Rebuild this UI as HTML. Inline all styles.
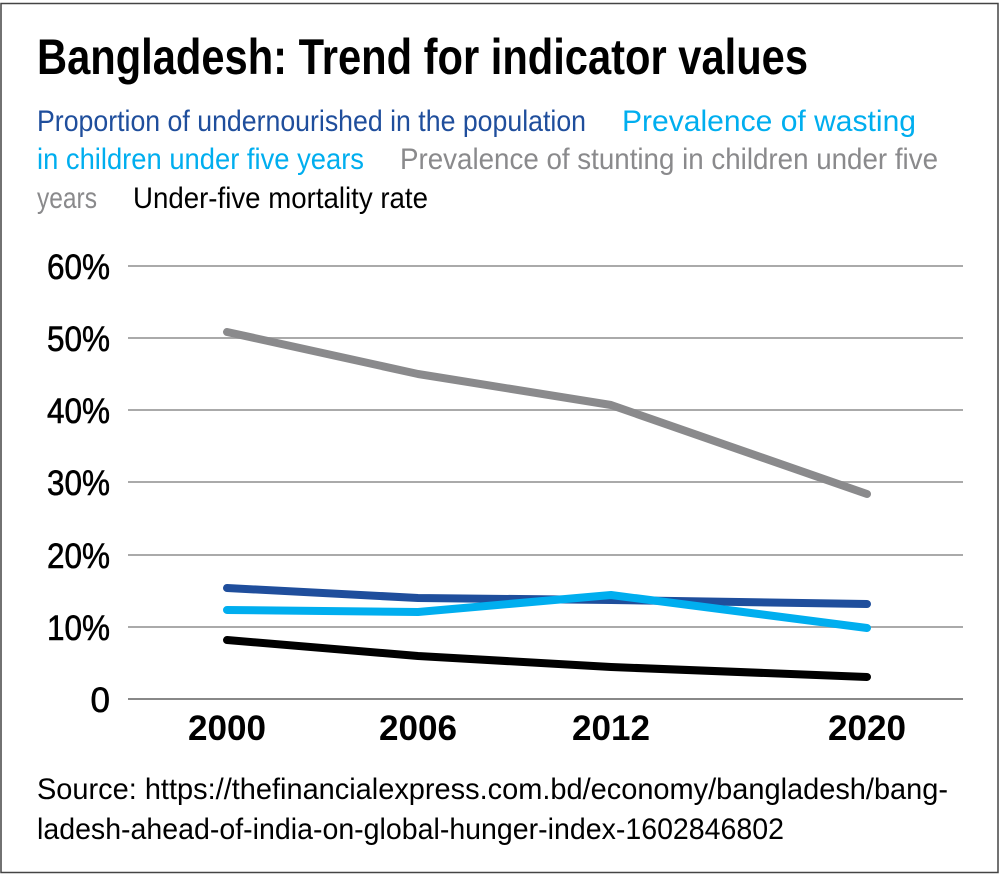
<!DOCTYPE html>
<html><head><meta charset="utf-8"><style>
html,body{margin:0;padding:0;background:#fff;}
svg{display:block;}
text{font-family:"Liberation Sans Narrow","Liberation Sans",sans-serif;}
</style></head><body>
<svg width="1000" height="875" viewBox="0 0 1000 875" xmlns="http://www.w3.org/2000/svg">
<rect x="1" y="3.5" width="997" height="869" fill="#fff" stroke="#444" stroke-width="1.5"/>
<text x="37" y="74" font-size="50" font-weight="bold" fill="#000" textLength="771" lengthAdjust="spacingAndGlyphs">Bangladesh: Trend for indicator values</text>
<g font-size="30">
<text x="37" y="131" fill="#1f4e9c" textLength="549" lengthAdjust="spacingAndGlyphs">Proportion of undernourished in the population</text>
<text x="622" y="131" fill="#00aeef" textLength="294" lengthAdjust="spacingAndGlyphs">Prevalence of wasting</text>
<text x="37" y="169" fill="#00aeef" textLength="327" lengthAdjust="spacingAndGlyphs">in children under five years</text>
<text x="400" y="169" fill="#8a8a8c" textLength="538" lengthAdjust="spacingAndGlyphs">Prevalence of stunting in children under five</text>
<text x="37" y="208" fill="#8a8a8c" textLength="60" lengthAdjust="spacingAndGlyphs">years</text>
<text x="133" y="208" fill="#000" textLength="295" lengthAdjust="spacingAndGlyphs">Under-five mortality rate</text>
</g>
<g stroke="#aaa" stroke-width="2">
<line x1="128" x2="963" y1="266" y2="266"/>
<line x1="128" x2="963" y1="338" y2="338"/>
<line x1="128" x2="963" y1="410" y2="410"/>
<line x1="128" x2="963" y1="482" y2="482"/>
<line x1="128" x2="963" y1="555" y2="555"/>
<line x1="128" x2="963" y1="627" y2="627"/>
<line x1="128" x2="963" y1="699" y2="699" stroke="#888"/>
</g>
<g font-size="35" fill="#000" text-anchor="end" stroke="#000" stroke-width="0.6">
<text x="110" y="279" textLength="63" lengthAdjust="spacingAndGlyphs">60%</text>
<text x="110" y="351" textLength="63" lengthAdjust="spacingAndGlyphs">50%</text>
<text x="110" y="423" textLength="63" lengthAdjust="spacingAndGlyphs">40%</text>
<text x="110" y="495" textLength="63" lengthAdjust="spacingAndGlyphs">30%</text>
<text x="110" y="568" textLength="63" lengthAdjust="spacingAndGlyphs">20%</text>
<text x="110" y="640" textLength="63" lengthAdjust="spacingAndGlyphs">10%</text>
<text x="110" y="712">0</text>
</g>
<g font-size="35" font-weight="bold" fill="#000" text-anchor="middle">
<text x="227" y="740" textLength="78" lengthAdjust="spacingAndGlyphs">2000</text>
<text x="418" y="740" textLength="78" lengthAdjust="spacingAndGlyphs">2006</text>
<text x="611" y="740" textLength="78" lengthAdjust="spacingAndGlyphs">2012</text>
<text x="867" y="740" textLength="78" lengthAdjust="spacingAndGlyphs">2020</text>
</g>
<g fill="none" stroke-width="8" stroke-linecap="round" stroke-linejoin="round">
<polyline stroke="#8a8a8c" points="227,332 418,374 611,405 867,494"/>
<polyline stroke="#1f4e9c" points="227,588 418,598 611,600 867,604"/>
<polyline stroke="#00aeef" points="227,610 418,612 611,595 867,628"/>
<polyline stroke="#000" points="227,640 418,656 611,667 867,677"/>
</g>
<g font-size="30" fill="#000">
<text x="37" y="799" textLength="911" lengthAdjust="spacingAndGlyphs">Source: https://thefinancialexpress.com.bd/economy/bangladesh/bang-</text>
<text x="37" y="839" textLength="747" lengthAdjust="spacingAndGlyphs">ladesh-ahead-of-india-on-global-hunger-index-1602846802</text>
</g>
</svg>
</body></html>
